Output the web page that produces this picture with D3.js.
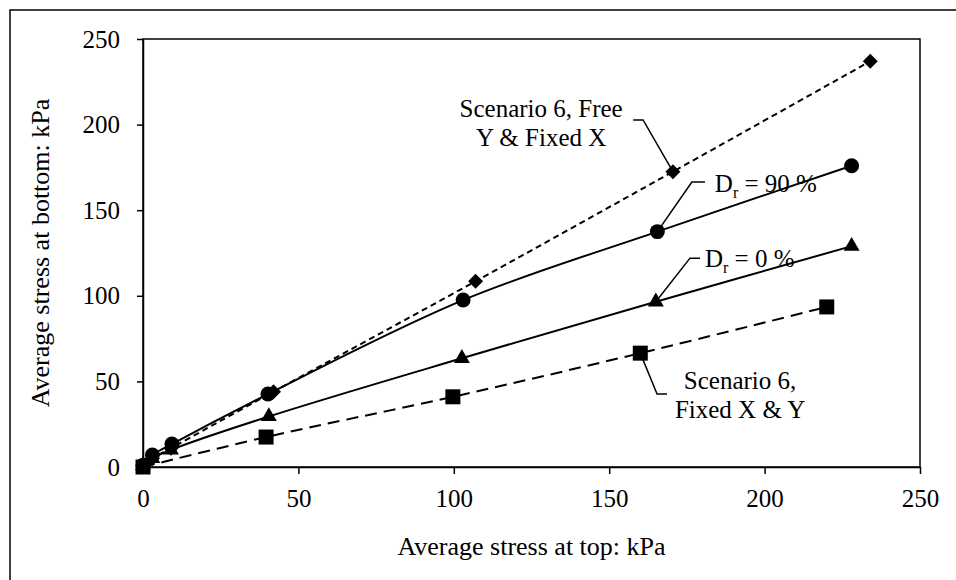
<!DOCTYPE html>
<html>
<head>
<meta charset="utf-8">
<script src="https://cdn.jsdelivr.net/npm/d3@7"></script>
<style>
  body { margin: 0; background: #fff; }
  svg text { font-family: "Liberation Serif", "Times New Roman", serif; fill: #000; }
</style>
</head>
<body>
<svg id="chart"></svg>
<script>
    // ---- data (kPa) ----
    var xTicks = [0, 50, 100, 150, 200, 250];
    var yTicks = [0, 50, 100, 150, 200, 250];

    var freeYTop    = [0, 3, 9, 42, 107, 170.5, 234];
    var freeYBottom = [0, 5, 11, 44, 108.5, 172.5, 237];

    var dr90Top    = [0, 3, 9.3, 40.2, 103, 165.5, 228];
    var dr90Bottom = [1, 7, 13.4, 42.6, 97.5, 137.5, 176];

    var dr0Top    = [0, 3, 9, 40.5, 102.6, 165, 228];
    var dr0Bottom = [1, 5, 10, 29.5, 63.5, 96.5, 129];

    var fixedTop    = [0, 39.6, 99.7, 160, 220];
    var fixedBottom = [0, 17.5, 41, 66.5, 93.5];

    var width = 956, height = 580;
    var margin = {top: 39, right: 36, bottom: 113, left: 143};
    var w = width - margin.left - margin.right,
        h = height - margin.top - margin.bottom;

    var x = d3.scaleLinear().domain([0, 250]).range([0, w]);
    var y = d3.scaleLinear().domain([0, 250]).range([h, 0]);

    var svg = d3.select("#chart")
        .attr("width", width)
        .attr("height", height);

    // outer frame (runs off the right / bottom edge)
    svg.append("rect")
        .attr("x", 10).attr("y", 10)
        .attr("width", 990).attr("height", 620)
        .attr("fill", "none").attr("stroke", "#000").attr("stroke-width", 1.5);

    var g = svg.append("g")
        .attr("transform", "translate(" + margin.left + "," + margin.top + ")");

    // plot box
    g.append("rect")
        .attr("width", w).attr("height", h)
        .attr("fill", "none").attr("stroke", "#000").attr("stroke-width", 1.5);

    var xAxis = g.append("g")
        .attr("transform", "translate(0," + h + ")")
        .call(d3.axisBottom(x).tickValues(xTicks).tickSize(7).tickPadding(15).tickSizeOuter(0));
    var yAxis = g.append("g")
        .call(d3.axisLeft(y).tickValues(yTicks).tickSize(6).tickPadding(17).tickSizeOuter(0));

    [xAxis, yAxis].forEach(function(a) {
        a.select(".domain").attr("stroke-width", 1.5);
        a.selectAll(".tick line").attr("stroke-width", 1.5);
        a.selectAll("text").style("font-size", "25px")
            .style("font-family", "'Liberation Serif', 'Times New Roman', serif");
    });

    svg.append("text")
        .attr("x", margin.left + w / 2).attr("y", 555)
        .attr("text-anchor", "middle")
        .style("font-size", "26px")
        .text("Average stress at top: kPa");

    svg.append("text")
        .attr("transform", "translate(49," + (margin.top + h / 2) + ") rotate(-90)")
        .attr("text-anchor", "middle")
        .style("font-size", "26px")
        .text("Average stress at bottom: kPa");

    function zip(a, b) { return a.map(function(v, i) { return [v, b[i]]; }); }

    var series = [
        {name: "free",  pts: zip(freeYTop, freeYBottom), dash: "6,4",  sym: d3.symbolSquare,   size: 112, rot: 45},
        {name: "dr90",  pts: zip(dr90Top, dr90Bottom),   dash: null,   sym: d3.symbolCircle,   size: 175, rot: 0},
        {name: "dr0",   pts: zip(dr0Top, dr0Bottom),     dash: null,   sym: d3.symbolTriangle, size: 110, rot: 0},
        {name: "fixed", pts: zip(fixedTop, fixedBottom), dash: "12,7", sym: d3.symbolSquare,   size: 225, rot: 0}
    ];

    var line = d3.line().curve(d3.curveCatmullRom.alpha(0.5))
        .x(function(d) { return x(d[0]); })
        .y(function(d) { return y(d[1]); });

    series.forEach(function(s) {
        g.append("path")
            .datum(s.pts)
            .attr("d", line)
            .attr("fill", "none")
            .attr("stroke", "#000")
            .attr("stroke-width", 2)
            .attr("stroke-dasharray", s.dash);
    });
    series.forEach(function(s) {
        g.selectAll(null)
            .data(s.pts)
            .enter().append("path")
            .attr("transform", function(d) {
                return "translate(" + x(d[0]) + "," + y(d[1]) + ") rotate(" + s.rot + ")";
            })
            .attr("d", d3.symbol().type(s.sym).size(s.size))
            .attr("fill", "#000");
    });

    // call-outs, in data units
    var callouts = [
        {leader: [[170.5, 172.5], [160.9, 202.7], [157.7, 202.7]],
         lines: [{t: "Scenario 6, Free", at: [128.1, 209.7]}, {t: "Y & Fixed X", at: [128.1, 192.8]}], anchor: "middle"},
        {leader: [[165.5, 137.5], [176.6, 166.5], [180.8, 166.5]],
         lines: [{t: "D", sub: "r", rest: " = 90 %", at: [184, 165.9]}], anchor: "start"},
        {leader: [[165, 96.5], [176, 122], [179.2, 122]],
         lines: [{t: "D", sub: "r", rest: " = 0 %", at: [180.8, 122]}], anchor: "start"},
        {leader: [[160, 66.5], [165.4, 42.6], [168.6, 42.6]],
         lines: [{t: "Scenario 6,", at: [192.1, 50.8]}, {t: "Fixed X & Y", at: [192.1, 33.9]}], anchor: "middle"}
    ];

    var leaderLine = d3.line()
        .x(function(d) { return x(d[0]); })
        .y(function(d) { return y(d[1]); });

    callouts.forEach(function(c) {
        g.append("path")
            .attr("d", leaderLine(c.leader))
            .attr("fill", "none").attr("stroke", "#000").attr("stroke-width", 1.5);
        c.lines.forEach(function(l) {
            var t = g.append("text")
                .attr("x", x(l.at[0])).attr("y", y(l.at[1]))
                .attr("dy", "0.35em")
                .attr("text-anchor", c.anchor)
                .style("font-size", "25px");
            t.append("tspan").text(l.t);
            if (l.sub) {
                t.append("tspan").attr("dy", 6).style("font-size", "16px").text(l.sub);
                t.append("tspan").attr("dy", -6).text(l.rest);
            }
        });
    });
</script>
</body>
</html>
